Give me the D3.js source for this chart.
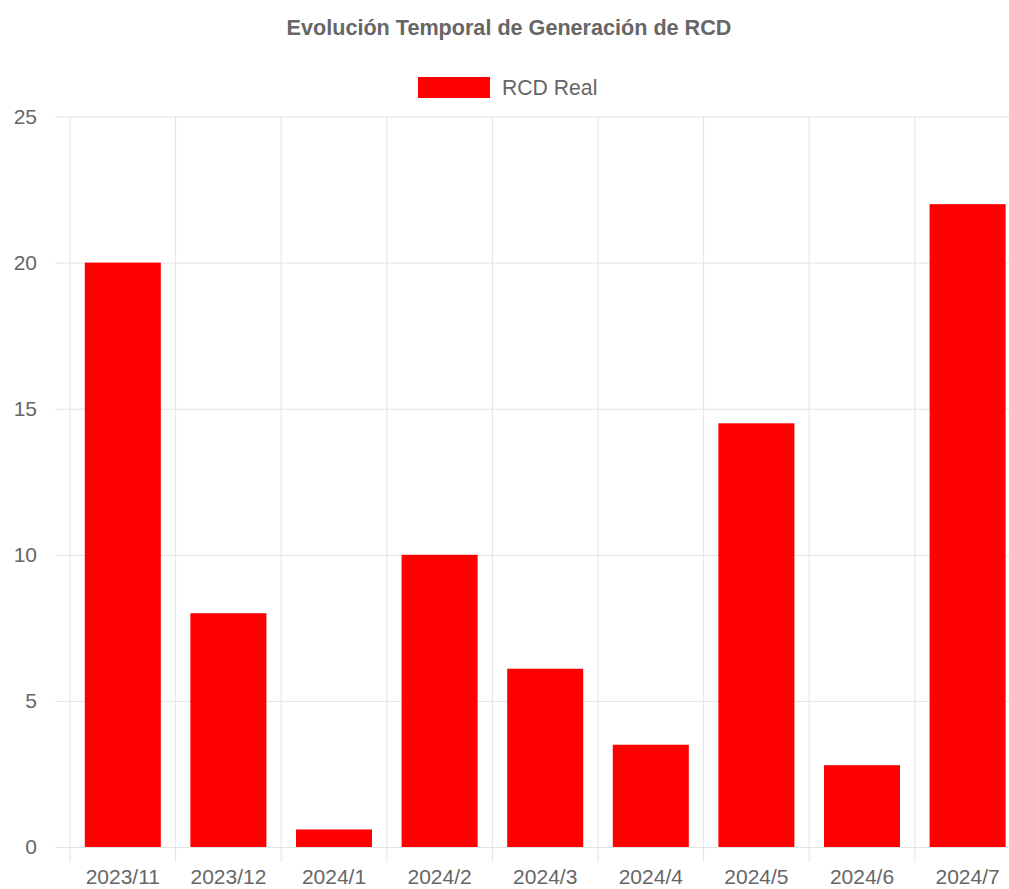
<!DOCTYPE html>
<html>
<head>
<meta charset="utf-8">
<script src="https://cdn.jsdelivr.net/npm/d3@7"></script>
<style>
  html, body { margin: 0; padding: 0; background: #fff; }
  svg { display: block; font-family: "Liberation Sans", Arial, Helvetica, sans-serif; }
</style>
</head>
<body>
<svg id="chart" width="1009" height="889"></svg>
<script>
// Monthly construction & demolition waste (RCD) generated
const categories = ["2023/11", "2023/12", "2024/1", "2024/2", "2024/3", "2024/4", "2024/5", "2024/6", "2024/7"];
const rcdReal = [20, 8, 0.6, 10, 6.1, 3.5, 14.5, 2.8, 22];
const yTicks = [0, 5, 10, 15, 20, 25];

const svg = d3.select("#chart");
const textColor = "#666";
const gridColor = "#e3e3e3";
const barColor = "#ff0000";

const plot = { left: 70, right: 1020.4, top: 116.5, bottom: 847 };

const x = d3.scaleBand()
  .domain(categories)
  .range([plot.left, plot.right])
  .paddingInner(0.28)
  .paddingOuter(0.14);
const step = x.step();

const y = d3.scaleLinear().domain([0, 25]).range([plot.bottom, plot.top]);

// Title
svg.append("text")
  .attr("x", 509).attr("y", 27)
  .attr("text-anchor", "middle").attr("dominant-baseline", "central")
  .attr("fill", textColor).attr("font-weight", "bold").attr("font-size", 21.6)
  .text("Evolución Temporal de Generación de RCD");

// Legend
const legend = svg.append("g");
legend.append("rect")
  .attr("x", 418).attr("y", 77).attr("width", 72).attr("height", 21)
  .attr("fill", barColor);
legend.append("text")
  .attr("x", 502).attr("y", 87.5)
  .attr("dominant-baseline", "central")
  .attr("fill", textColor).attr("font-size", 21.2)
  .text("RCD Real");

// Horizontal grid + y ticks
const yAxis = d3.axisLeft(y).tickValues(yTicks)
  .tickSize(plot.right - plot.left + 15).tickPadding(18);
const gy = svg.append("g")
  .attr("transform", `translate(${plot.right},0)`)
  .call(yAxis);
gy.select(".domain").remove();
gy.selectAll(".tick line").attr("stroke", gridColor).attr("stroke-width", 1);
gy.selectAll(".tick text")
  .attr("fill", textColor).attr("font-size", 21)
  .attr("font-family", "Liberation Sans, Arial, sans-serif");

// Vertical grid lines at category boundaries
const boundaries = d3.range(categories.length + 1).map(i => plot.left + i * step);
svg.append("g").selectAll("line")
  .data(boundaries)
  .join("line")
  .attr("x1", d => d).attr("x2", d => d)
  .attr("y1", plot.top).attr("y2", plot.bottom + 15)
  .attr("stroke", gridColor).attr("stroke-width", 1);

// x labels
const xAxis = d3.axisBottom(x).tickSize(0).tickPadding(22);
const gx = svg.append("g")
  .attr("transform", `translate(0,${plot.bottom})`)
  .call(xAxis);
gx.select(".domain").remove();
gx.selectAll(".tick text")
  .attr("fill", textColor).attr("font-size", 21)
  .attr("font-family", "Liberation Sans, Arial, sans-serif");

// Bars
svg.append("g").selectAll("rect")
  .data(categories.map((c, i) => ({ c, v: rcdReal[i] })))
  .join("rect")
  .attr("x", d => x(d.c))
  .attr("width", x.bandwidth())
  .attr("y", d => y(d.v))
  .attr("height", d => y(0) - y(d.v))
  .attr("fill", barColor);
</script>
</body>
</html>
